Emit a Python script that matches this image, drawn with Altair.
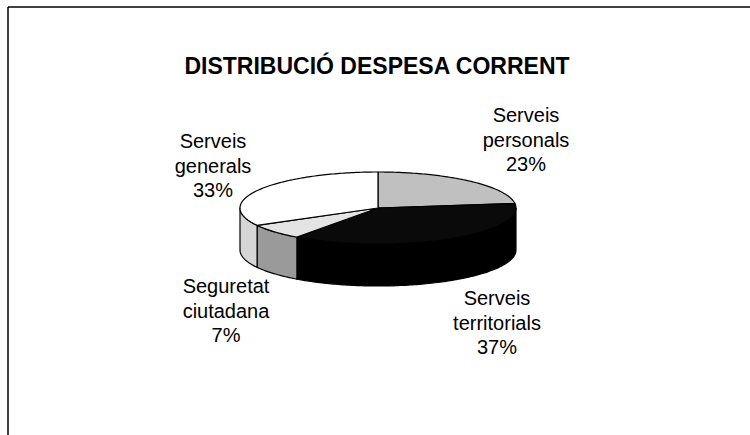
import math
import altair as alt
import pandas as pd

# ---- data ----
title_text = "DISTRIBUCIÓ DESPESA CORRENT"
categories = ["Serveis personals", "Serveis territorials", "Seguretat ciutadana", "Serveis generals"]
values = [23, 37, 7, 33]

# ---- styles ----
top_colors = ["#c0c0c0", "#0a0a0a", "#e4e4e4", "#ffffff"]
side_colors = ["#a9a9a9", "#000000", "#9a9a9a", "#d6d6d6"]

# ---- layout (pixels) ----
W, H = 750, 435
CX, CY, RX, RY, DEPTH = 378, 208, 138, 36, 42
START_DEG = 90.0
label_x = [526, 497, 226, 213]
label_y = [116, 299, 287, 142]   # first-line positions

total = float(sum(values))
top_rows, side_rows = [], []
a0 = START_DEG
for k, (cat, v) in enumerate(zip(categories, values)):
    a1 = a0 - 360.0 * v / total
    # top sector
    n = max(2, int(abs(a0 - a1)))
    pts = [(CX, CY)]
    for j in range(n + 1):
        a = math.radians(a0 + (a1 - a0) * j / n)
        pts.append((CX + RX * math.cos(a), CY - RY * math.sin(a)))
    pts.append((CX, CY))
    for i, (px, py) in enumerate(pts):
        top_rows.append({"poly": k, "i": i, "x": px, "y": py, "fill": top_colors[k], "cat": cat})
    # visible side wall (front half: angles in [-180, 0])
    lo, hi = max(a1, -180.0), min(a0, 0.0)
    if hi > lo:
        m = max(2, int(hi - lo))
        arc = [math.radians(hi + (lo - hi) * j / m) for j in range(m + 1)]
        spts = [(CX + RX * math.cos(a), CY - RY * math.sin(a)) for a in arc]
        spts += [(CX + RX * math.cos(a), CY - RY * math.sin(a) + DEPTH) for a in reversed(arc)]
        spts.append(spts[0])
        for i, (px, py) in enumerate(spts):
            side_rows.append({"poly": k, "i": i, "x": px, "y": py, "fill": side_colors[k], "cat": cat})
    a0 = a1

top_df = pd.DataFrame(top_rows)
side_df = pd.DataFrame(side_rows)
labels_df = pd.DataFrame({
    "text": [c.replace(" ", "\n", 1) + f"\n{v}%" for c, v in zip(categories, values)],
    "x": label_x,
    "y": label_y,
})
title_df = pd.DataFrame({"text": [title_text], "x": [377], "y": [67]})

xs = alt.Scale(domain=[0, W], nice=False, zero=False)
ys = alt.Scale(domain=[0, H], nice=False, zero=False, reverse=True)
X = lambda f="x": alt.X(f"{f}:Q", scale=xs, axis=None)
Y = lambda f="y": alt.Y(f"{f}:Q", scale=ys, axis=None)


def polys(df):
    return alt.Chart(df).mark_line(
        filled=True, stroke="black", strokeWidth=1.2, strokeJoin="round", interpolate="linear"
    ).encode(
        x=X(), y=Y(),
        order=alt.Order("i:Q"),
        detail="poly:N",
        color=alt.Color("fill:N", scale=None, legend=None),
    )


sides = polys(side_df)
tops = polys(top_df)

labels = alt.Chart(labels_df).mark_text(
    font="Liberation Sans", fontSize=20, lineHeight=24.5, align="center", baseline="middle",
    color="black", lineBreak="\n",
).encode(x=X(), y=Y(), text="text:N")

title = alt.Chart(title_df).mark_text(
    font="Liberation Sans", fontSize=23, fontWeight="bold", align="center", baseline="middle",
    color="black",
).encode(x=X(), y=Y(), text="text:N")

frame_top = alt.Chart(title_df).mark_rule(color="black", strokeWidth=1.5).encode(
    x=alt.value(8), x2=alt.value(W), y=alt.value(7))
frame_left = alt.Chart(title_df).mark_rule(color="black", strokeWidth=1.5).encode(
    x=alt.value(8), y=alt.value(7), y2=alt.value(H))

chart = alt.layer(frame_top, frame_left, sides, tops, labels, title).properties(
    width=W, height=H, padding=0, autosize="none", background="white"
).configure_view(stroke=None)

chart.save("out.html", embed_options={"renderer": "svg", "actions": False})
